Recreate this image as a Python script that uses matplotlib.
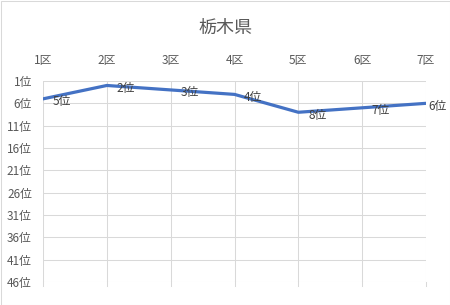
import matplotlib
matplotlib.use("Agg")
import matplotlib.pyplot as plt
from matplotlib.patches import Rectangle
from matplotlib.transforms import blended_transform_factory

plt.rcParams['font.family'] = ['Noto Sans CJK JP', 'DejaVu Sans']

title = "栃木県"
categories = ["1区", "2区", "3区", "4区", "5区", "6区", "7区"]
ranks = [5, 2, 3, 4, 8, 7, 6]
y_ticks = [1, 6, 11, 16, 21, 26, 31, 36, 41, 46]
y_labels = [f"{v}位" for v in y_ticks]

W, H = 450, 305
fig = plt.figure(figsize=(W / 100, H / 100), dpi=100)
ax_h = 282 - 81
ax = fig.add_axes([43 / W, 1 - 282 / H, (426 - 43) / W, ax_h / H])

x = list(range(len(categories)))
ax.plot(x, ranks, color="#4472C4", linewidth=2.3, solid_capstyle="round", zorder=3)
for i, (xi, r) in enumerate(zip(x, ranks)):
    dx = 7 if i < len(x) - 1 else 1.5
    ax.annotate(f"{r}位", (xi, r), xytext=(dx, -2), textcoords="offset points",
                ha="left", va="center", fontsize=8.5, color="#404040", zorder=4,
                annotation_clip=False)

ax.set_xlim(0, len(categories) - 1)
ax.set_ylim(46, 1)
ax.set_xticks(x)
ax.set_xticklabels(categories)
ax.set_yticks(y_ticks)
ax.set_yticklabels(y_labels)
ax.xaxis.tick_top()
ax.tick_params(axis="x", top=False, bottom=False, labeltop=True, labelbottom=False,
               length=0, pad=10, labelsize=8.5, labelcolor="#595959")
ax.tick_params(axis="y", length=0, pad=8, labelsize=8.5, labelcolor="#595959")
ax.grid(True, color="#d9d9d9", linewidth=0.75)
ax.set_axisbelow(True)
for s in ax.spines.values():
    s.set_visible(False)

# small tick marks below the bottom gridline
trans = blended_transform_factory(ax.transData, ax.transAxes)
for xi in x:
    ax.plot([xi, xi], [0, -4 / ax_h], transform=trans, color="#d9d9d9",
            linewidth=0.75, clip_on=False, zorder=1)

fig.text(225 / W, 1 - 28 / H, title, ha="center", va="center", fontsize=13, color="#595959")
fig.patches.append(Rectangle((0.5 / W, 0.5 / H), 1 - 1 / W, 1 - 1 / H, transform=fig.transFigure,
                             fill=False, edgecolor="#d9d9d9", linewidth=0.75))

fig.savefig("out.png", dpi=100)
